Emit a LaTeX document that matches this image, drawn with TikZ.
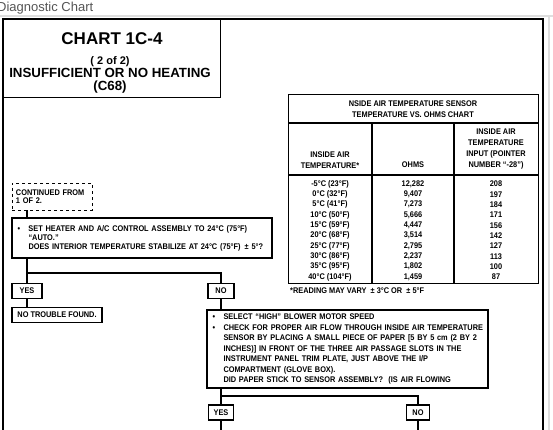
\documentclass[tikz,border=0pt]{standalone}
\usepackage{fontspec}
\setmainfont{Liberation Sans}
\newfontfamily\cf{Liberation Sans}[FakeStretch=0.9]
\definecolor{hdr}{RGB}{85,85,85}
\definecolor{sep}{RGB}{222,222,222}
\newcommand\bl{\makebox[11pt][l]{\textbullet}}
\newcommand\ind{\hspace*{11pt}}
\begin{document}
\begin{tikzpicture}[x=1pt,y=-1pt,
  fc/.style={font=\fontsize{8.2}{9}\selectfont\cf\bfseries},
  bx/.style={draw, line width=1.1pt, fill=white, inner ysep=0pt, fc},
  conn/.style={line width=1.8pt},
  frame/.style={line width=1.3pt}]
\useasboundingbox (0,0) rectangle (553,430);
% page header
\node[anchor=base west, text=hdr, font=\fontsize{13}{16}\selectfont, inner sep=0] (hd) at (-3,12) {Diagnostic Chart};
\draw[sep, line width=2pt] (0,16) -- (553,16);
\draw[sep, line width=1.5pt] (549,16) -- (549,432);
% outer frame
\draw[frame] (3,435) -- (3,19) -- (543,19) -- (543,435);
% title
\node[draw, frame, minimum width=217pt, minimum height=78pt, inner sep=0, anchor=north west] (title) at (3,19) {};
\node[anchor=base, font=\fontsize{17}{18}\selectfont\bfseries, inner sep=0] (t1) at (112,45) {CHART 1C-4};
\node[anchor=base, font=\fontsize{11}{12}\selectfont\bfseries, inner sep=0] (t2) at (110,65) {( 2 of 2)};
\node[anchor=base, font=\fontsize{13.3}{14}\selectfont\bfseries, inner sep=0] (t3) at (110,78) {INSUFFICIENT OR NO HEATING};
\node[anchor=base, font=\fontsize{13.3}{14}\selectfont\bfseries, inner sep=0] (t4) at (110,91) {(C68)};
% table
\node[draw, frame, minimum width=250pt, minimum height=189pt, inner sep=0, anchor=north west] (tbl) at (288,94) {};
\coordinate (c1) at (372,0);
\coordinate (c2) at (454,0);
\coordinate (r1) at (0,123);
\coordinate (r2) at (0,175);
\draw[line width=1.1pt] (tbl.west |- r1) -- (tbl.east |- r1);
\draw[line width=2pt] (tbl.west |- r2) -- (tbl.east |- r2);
\draw[line width=1.1pt] (c1 |- r1) -- (c1 |- tbl.south);
\draw[line width=1.1pt] (c2 |- r1) -- (c2 |- tbl.south);
\node[align=center, inner sep=0, font=\fontsize{8.2}{11}\selectfont\cf\bfseries] (th) at (413,109.5) {NSIDE AIR TEMPERATURE SENSOR\\TEMPERATURE VS. OHMS CHART};
\node[align=center, inner sep=0, font=\fontsize{8.2}{10.5}\selectfont\cf\bfseries] (h1) at (330,160) {INSIDE AIR\\TEMPERATURE*};
\node[fc, align=center, inner sep=0] (h2) at (413,165) {OHMS};
\node[align=center, inner sep=0, font=\fontsize{8.2}{10.7}\selectfont\cf\bfseries] (h3) at (496,149) {INSIDE AIR\\TEMPERATURE\\INPUT (POINTER\\NUMBER “-28”)};
\node[align=center, inner sep=0, font=\fontsize{8.2}{10.35}\selectfont\cf\bfseries] (d1) at (330,230.5) {-5°C (23°F)\\0°C (32°F)\\5°C (41°F)\\10°C (50°F)\\15°C (59°F)\\20°C (68°F)\\25°C (77°F)\\30°C (86°F)\\35°C (95°F)\\40°C (104°F)};
\node[align=center, inner sep=0, font=\fontsize{8.2}{10.35}\selectfont\cf\bfseries] (d2) at (413,230.5) {12,282\\9,407\\7,273\\5,666\\4,447\\3,514\\2,795\\2,237\\1,802\\1,459};
\node[align=center, inner sep=0, font=\fontsize{8.2}{10.35}\selectfont\cf\bfseries] (d3) at (496,230.5) {208\\197\\184\\171\\156\\142\\127\\113\\100\\87};
\node[fc, anchor=west, inner sep=0] (fn) at (290,291) {*READING MAY VARY \ ± 3°C OR \ ± 5°F};
% flow boxes
\node[bx, dashed, line width=0.8pt, minimum width=80pt, minimum height=27pt, inner xsep=4pt, text width=72pt, align=left, font=\fontsize{8.2}{8.5}\selectfont\cf\bfseries] (cont) at (52,196.5) {CONTINUED FROM\\1 OF 2.};
\node[bx, minimum width=260pt, minimum height=40pt, inner xsep=5.5pt, text width=249pt, align=left] (box2) at (142,238) {\bl SET HEATER AND A/C CONTROL ASSEMBLY TO 24°C (75°F)\\\ind “AUTO.”\\\ind DOES INTERIOR TEMPERATURE STABILIZE AT 24°C (75°F) \,± 5°?};
\node[bx, minimum width=30pt, minimum height=15pt, inner xsep=0pt] (yes) at (27,291) {YES};
\node[bx, minimum width=26pt, minimum height=15pt, inner xsep=0pt] (no) at (221,291) {NO};
\node[bx, minimum width=90pt, minimum height=15pt, inner xsep=0pt] (nt) at (57,315) {NO TROUBLE FOUND.};
\node[bx, minimum width=281pt, minimum height=78pt, inner xsep=5.5pt, text width=270pt, align=left, font=\fontsize{8.2}{10.5}\selectfont\cf\bfseries] (big) at (347.5,349) {\bl SELECT “HIGH” BLOWER MOTOR SPEED\\\bl \mbox{CHECK FOR PROPER AIR FLOW THROUGH INSIDE AIR TEMPERATURE}\\\ind SENSOR BY PLACING A SMALL PIECE OF PAPER [5 BY 5 cm (2 BY 2\\\ind INCHES)] IN FRONT OF THE THREE AIR PASSAGE SLOTS IN THE\\\ind INSTRUMENT PANEL TRIM PLATE, JUST ABOVE THE I/P\\\ind COMPARTMENT (GLOVE BOX).\\\ind DID PAPER STICK TO SENSOR ASSEMBLY? \ (IS AIR FLOWING};
\node[bx, minimum width=25pt, minimum height=15pt, inner xsep=0pt] (yes2) at (221,412.5) {YES};
\node[bx, minimum width=23pt, minimum height=15pt, inner xsep=0pt] (no2) at (418,412.5) {NO};
% connectors
\coordinate (s1) at (0,273);
\coordinate (s2) at (0,396);
\coordinate (bot) at (0,436);
\draw[conn] (cont.south -| yes) -- (box2.north -| yes);
\draw[conn] (box2.south -| yes) -- (yes.north);
\draw[conn] (yes.north |- s1) -- (no.north |- s1) -- (no.north);
\draw[conn] (yes.south) -- (nt.north -| yes);
\draw[conn] (no.south) -- (big.north -| no);
\draw[conn] (big.south -| yes2) -- (yes2.north);
\draw[conn] (yes2.north |- s2) -- (no2.north |- s2) -- (no2.north);
\draw[conn] (yes2.south) -- (yes2.south |- bot);
\draw[conn] (no2.south) -- (no2.south |- bot);
\end{tikzpicture}
\end{document}
